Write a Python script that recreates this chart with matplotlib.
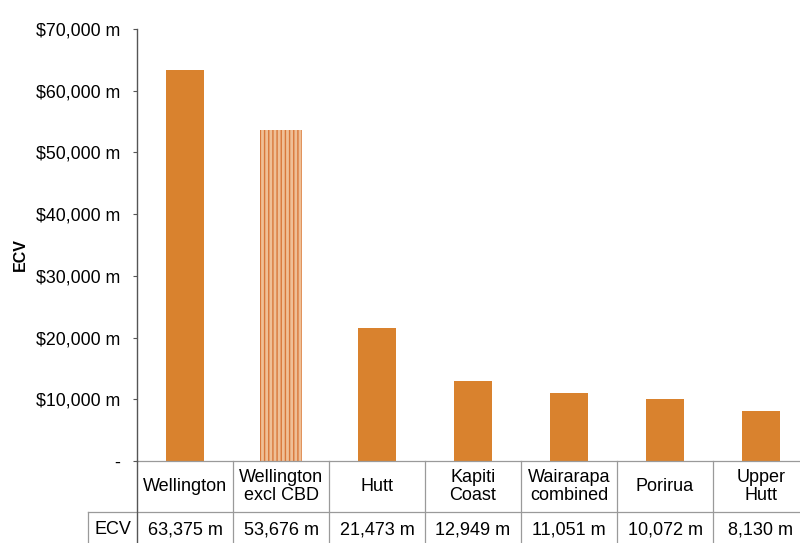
import matplotlib
matplotlib.use("Agg")
import matplotlib.pyplot as plt
import matplotlib.transforms as mtransforms
from matplotlib.ticker import FuncFormatter

# ─── Data ────────────────────────────────────────────────────────────────
districts = ["Wellington", "Wellington\nexcl CBD", "Hutt", "Kapiti\nCoast",
             "Wairarapa\ncombined", "Porirua", "Upper\nHutt"]
ecv_m = [63375, 53676, 21473, 12949, 11051, 10072, 8130]
row_label = "ECV"

BAR = "#d9822e"
GRID = "#9a9a9a"

plt.rcParams["font.family"] = ["Liberation Sans", "DejaVu Sans"]

fig = plt.figure(figsize=(8.0, 5.43), dpi=100)
ax = fig.add_axes([137 / 800, 1 - 461 / 543, 672 / 800, 432 / 543])

for i, v in enumerate(ecv_m):
    if i == 1:
        # the "excl CBD" bar is drawn striped
        ax.bar(i, v, width=0.43, color="#efbf96", edgecolor="#d9783a",
               hatch="||||", linewidth=0)
    else:
        ax.bar(i, v, width=0.40, color=BAR, linewidth=0)

ax.set_xlim(-0.5, len(districts) - 0.5)
ax.set_ylim(0, 70000)
ax.set_yticks(range(0, 70001, 10000))
ax.yaxis.set_major_formatter(
    FuncFormatter(lambda v, _: "-" if v == 0 else f"${v:,.0f} m"))
ax.tick_params(axis="y", labelsize=12.8, length=3, color="#555555", pad=9)
ax.set_xticks([])
ax.set_ylabel("ECV", fontsize=11.5, fontweight="bold")
ax.yaxis.set_label_coords(-0.163, 0.477)

for s in ["top", "right", "bottom"]:
    ax.spines[s].set_visible(False)
ax.spines["left"].set_color("#555555")
ax.spines["left"].set_linewidth(1.0)

# ─── Data table under the axis ───────────────────────────────────────────
trans = mtransforms.blended_transform_factory(ax.transData, ax.transAxes)
h1 = 51 / 432   # category row
h2 = 36 / 432   # value row
lab_w = 49 / 96  # width of the row-label cell in category units

line_kw = dict(transform=trans, color=GRID, lw=0.9, clip_on=False)
left = -0.5
right = len(districts) - 0.5
# horizontal rules
ax.plot([left, right], [0, 0], **line_kw)
ax.plot([left - lab_w, right], [-h1, -h1], **line_kw)
ax.plot([left - lab_w, right], [-h1 - h2, -h1 - h2], **line_kw)
# vertical rules
ax.plot([left, left], [0, -h1 - h2], transform=trans, color="#555555",
        lw=1.0, clip_on=False)
ax.plot([left - lab_w, left - lab_w], [-h1, -h1 - h2], **line_kw)
for i in range(1, len(districts) + 1):
    ax.plot([i - 0.5, i - 0.5], [0, -h1 - h2], **line_kw)

for i, (name, v) in enumerate(zip(districts, ecv_m)):
    ax.text(i, -h1 / 2, name, transform=trans, ha="center", va="center",
            fontsize=13, linespacing=1.0, clip_on=False)
    ax.text(i, -h1 - h2 / 2, f"{v:,} m", transform=trans, ha="center",
            va="center", fontsize=13, clip_on=False)
ax.text(left - lab_w / 2, -h1 - h2 / 2, row_label, transform=trans,
        ha="center", va="center", fontsize=13, clip_on=False)

fig.savefig("out.png", dpi=100)
